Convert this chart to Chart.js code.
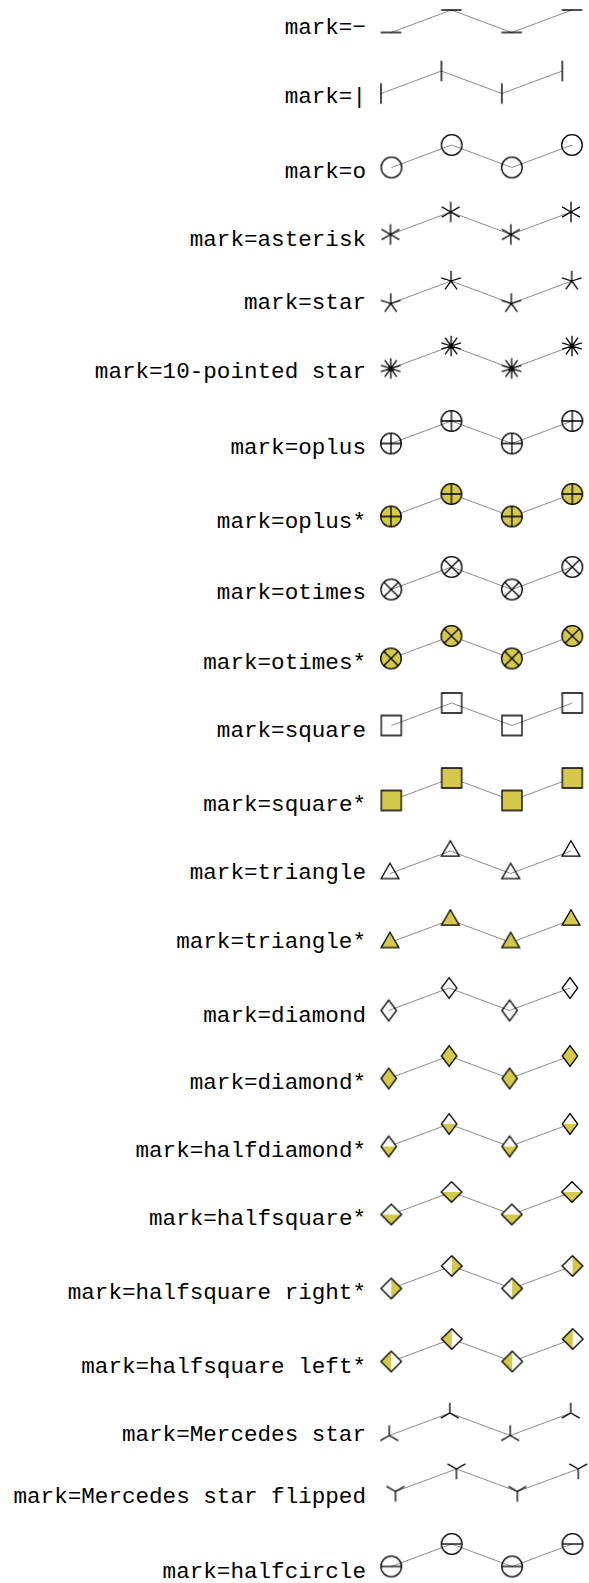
<!DOCTYPE html>
<html>
<head>
<meta charset="utf-8">
<script src="https://cdn.jsdelivr.net/npm/chart.js@4"></script>
<style>
  html, body { margin: 0; padding: 0; background: #fff; }
  #wrap { position: relative; width: 589px; height: 1583px; overflow: hidden; }
  .lbl {
    position: absolute; right: 223px; white-space: pre;
    font-family: "Liberation Mono", "DejaVu Sans Mono", monospace;
    font-size: 22.6px; line-height: 26px; color: #000;
  }
  canvas.row { position: absolute; left: 370px; }
</style>
</head>
<body>
<div id="wrap"></div>
<script>
// Data: the same four points for every mark
const xs = [0, 1, 2, 3];
const ys = [0, 1, 0, 1];

// Mark names, one per row, and their labels
const marks = ['-', '|', 'o', 'asterisk', 'star', '10-pointed star', 'oplus', 'oplus*',
    'otimes', 'otimes*', 'square', 'square*', 'triangle', 'triangle*', 'diamond', 'diamond*',
    'halfdiamond*', 'halfsquare*', 'halfsquare right*', 'halfsquare left*',
    'Mercedes star', 'Mercedes star flipped', 'halfcircle'];
const labels = marks.map(m => 'mark=' + (m === '-' ? '\u2212' : m));

// Layout of each row (pixel positions of first/last point, top point, text baseline)
const rowX0 = [391, 381, 391.5, 390.5, 390.7, 390.7, 391, 391, 391.2, 391, 391.3, 391.3,
    390, 390, 388.7, 388.7, 388.7, 391.3, 391.3, 391.2, 389.3, 395.5, 391.2];
const rowX3 = [572, 562.3, 572, 571, 571.7, 572, 572.3, 572.3, 572.3, 572.3, 572.3, 572.3,
    571, 571, 570, 570, 570, 572, 572.5, 572.7, 570.7, 578.3, 572.5];
const rowTop = [10, 70.7, 144.7, 212.3, 280.7, 346, 420.5, 494, 567, 635.7, 703, 778,
    851.3, 920, 988.3, 1056, 1124, 1191.7, 1265.5, 1339.2, 1413.3, 1469.3, 1544];
const rowBase = [33.5, 103, 178, 246, 309, 378, 454, 527.5, 599, 669, 736.7, 810.7,
    879, 947.7, 1021.7, 1089.3, 1157.3, 1225, 1299.3, 1373, 1441, 1502.5, 1577.5];
const rowSpan = 22.5; // pixel height between y=0 and y=1

const fillColor = '#d4c94c';
const lineColor = '#8a8a8a';

// Build a small canvas holding one plot mark, used as the point style
function makeMark(name) {
    const S = 30, r = 10.3;
    const c = document.createElement('canvas');
    c.width = S; c.height = S;
    const ctx = c.getContext('2d');
    ctx.translate(S / 2, S / 2);
    ctx.strokeStyle = '#000';
    ctx.lineWidth = 1.3;
    ctx.lineJoin = 'miter';

    const arms = (angles, len) => {
        ctx.beginPath();
        angles.forEach(a => {
            const t = a * Math.PI / 180;
            ctx.moveTo(0, 0);
            ctx.lineTo(len * Math.cos(t), -len * Math.sin(t));
        });
        ctx.stroke();
    };
    const circle = (fill) => {
        ctx.beginPath();
        ctx.arc(0, 0, r, 0, Math.PI * 2);
        if (fill) { ctx.fillStyle = fill; ctx.fill(); }
        ctx.stroke();
    };
    const poly = (pts, fill) => {
        ctx.beginPath();
        pts.forEach((p, i) => i ? ctx.lineTo(p[0], p[1]) : ctx.moveTo(p[0], p[1]));
        ctx.closePath();
        if (fill) { ctx.fillStyle = fill; ctx.fill(); }
    };
    // diamond split in two halves: one half white, the other coloured
    const halfDiamond = (w, h, side) => {
        const top = [0, -h], right = [w, 0], bottom = [0, h], left = [-w, 0];
        if (side === 'bottom') {
            poly([left, top, right], '#fff');
            poly([left, bottom, right], fillColor);
        } else if (side === 'right') {
            poly([top, left, bottom], '#fff');
            poly([top, right, bottom], fillColor);
        } else {
            poly([top, right, bottom], '#fff');
            poly([top, left, bottom], fillColor);
        }
        poly([top, right, bottom, left]);
        ctx.stroke();
    };
    const c30 = Math.cos(Math.PI / 6);

    switch (name) {
        case '-':
            ctx.lineWidth = 1.4;
            ctx.beginPath(); ctx.moveTo(-r, 0); ctx.lineTo(r, 0); ctx.stroke();
            break;
        case '|':
            ctx.lineWidth = 1.4;
            ctx.beginPath(); ctx.moveTo(0, -r); ctx.lineTo(0, r); ctx.stroke();
            break;
        case 'o':
            circle();
            break;
        case 'asterisk':
            arms([90, 30, 150, 270, 210, 330], r);
            break;
        case 'star':
            arms([90, 162, 234, 306, 18], r);
            break;
        case '10-pointed star':
            arms([90, 126, 162, 198, 234, 270, 306, 342, 18, 54], r);
            break;
        case 'oplus':
        case 'oplus*':
            circle(name === 'oplus*' ? fillColor : null);
            arms([0, 90, 180, 270], r);
            break;
        case 'otimes':
        case 'otimes*':
            circle(name === 'otimes*' ? fillColor : null);
            arms([45, 135, 225, 315], r);
            break;
        case 'square':
        case 'square*':
            ctx.beginPath();
            ctx.rect(-10, -10, 20, 20);
            if (name === 'square*') { ctx.fillStyle = fillColor; ctx.fill(); }
            ctx.stroke();
            break;
        case 'triangle':
        case 'triangle*':
            poly([[0, -r], [r * c30, r / 2], [-r * c30, r / 2]],
                name === 'triangle*' ? fillColor : null);
            ctx.stroke();
            break;
        case 'diamond':
        case 'diamond*':
            poly([[0, -r], [0.75 * r, 0], [0, r], [-0.75 * r, 0]],
                name === 'diamond*' ? fillColor : null);
            ctx.stroke();
            break;
        case 'halfdiamond*':
            halfDiamond(0.75 * r, r, 'bottom');
            break;
        case 'halfsquare*':
            halfDiamond(r, r, 'bottom');
            break;
        case 'halfsquare right*':
            halfDiamond(r, r, 'right');
            break;
        case 'halfsquare left*':
            halfDiamond(r, r, 'left');
            break;
        case 'Mercedes star':
            arms([90, 210, 330], r);
            break;
        case 'Mercedes star flipped':
            arms([270, 30, 150], r);
            break;
        case 'halfcircle':
            circle();
            ctx.beginPath(); ctx.moveTo(-r, 0); ctx.lineTo(r, 0); ctx.stroke();
            break;
    }
    return c;
}

const wrap = document.getElementById('wrap');
const points = xs.map((x, i) => ({ x: x, y: ys[i] }));
const PAD = 14;

marks.forEach((m, i) => {
    // label
    const lbl = document.createElement('div');
    lbl.className = 'lbl';
    lbl.textContent = labels[i];
    lbl.style.top = (rowBase[i] - 19) + 'px';
    wrap.appendChild(lbl);

    // one small plot per mark
    const cv = document.createElement('canvas');
    cv.className = 'row';
    const h = Math.ceil(rowSpan + 2 * PAD);
    cv.width = 219; cv.height = h;
    cv.style.width = '219px'; cv.style.height = h + 'px';
    cv.style.top = (rowTop[i] - PAD) + 'px';
    wrap.appendChild(cv);

    new Chart(cv.getContext('2d'), {
        type: 'scatter',
        data: {
            datasets: [{
                data: points,
                showLine: true,
                borderColor: lineColor,
                borderWidth: 1,
                pointStyle: makeMark(m),
                pointRadius: 10,
                clip: false
            }]
        },
        options: {
            responsive: false,
            animation: false,
            events: [],
            layout: {
                autoPadding: false,
                padding: {
                    left: rowX0[i] - 370,
                    right: 589 - rowX3[i],
                    top: PAD,
                    bottom: h - PAD - rowSpan
                }
            },
            scales: {
                x: { type: 'linear', min: 0, max: 3, display: false },
                y: { type: 'linear', min: 0, max: 1, display: false }
            },
            plugins: { legend: { display: false }, tooltip: { enabled: false } }
        }
    });
});
</script>
</body>
</html>
